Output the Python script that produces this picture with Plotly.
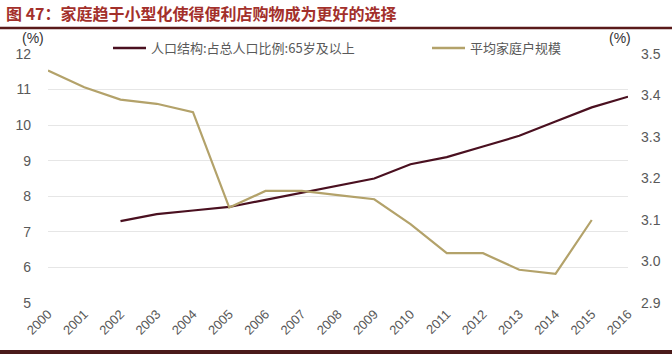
import plotly.graph_objects as go

years = list(range(2000, 2017))
year_labels = [str(y) for y in years]

aged_years = list(range(2002, 2017))
aged_share = [7.3, 7.5, 7.6, 7.7, 7.9, 8.1, 8.3, 8.5, 8.9, 9.1, 9.4, 9.7, 10.1, 10.5, 10.8]

hh_years = list(range(2000, 2016))
hh_size = [3.46, 3.42, 3.39, 3.38, 3.36, 3.13, 3.17, 3.17, 3.16, 3.15, 3.09, 3.02, 3.02, 2.98, 2.97, 3.10]

left_ticks = [5, 6, 7, 8, 9, 10, 11, 12]
right_ticks = [2.9, 3.0, 3.1, 3.2, 3.3, 3.4, 3.5]
right_labels = ["2.9", "3.0", "3.1", "3.2", "3.3", "3.4", "3.5"]

name_aged = "人口结构:占总人口比例:65岁及以上"
name_hh = "平均家庭户规模"
title = "图 47：家庭趋于小型化使得便利店购物成为更好的选择"

maroon = "#4a1020"
gold = "#b3a26a"
grey = "#595959"
cjk = "Noto Sans CJK SC"

W, H = 672, 354
ML, MR, MT, MB = 48, 44, 54, 51
PW, PH = W - ML - MR, H - MT - MB


def px(xp):
    return (xp - ML) / PW


def py(yp):
    return (H - MB - yp) / PH


fig = go.Figure()
fig.add_trace(go.Scatter(x=aged_years, y=aged_share, mode="lines", name=name_aged,
                         line=dict(color=maroon, width=2.2), yaxis="y"))
fig.add_trace(go.Scatter(x=hh_years, y=hh_size, mode="lines", name=name_hh,
                         line=dict(color=gold, width=2.2), yaxis="y2"))

fig.update_layout(
    width=W, height=H,
    margin=dict(l=ML, r=MR, t=MT, b=MB, autoexpand=False),
    paper_bgcolor="white", plot_bgcolor="white",
    showlegend=False,
    xaxis=dict(range=[2000, 2016], tickmode="array", tickvals=years, ticktext=year_labels,
               tickangle=-45, tickfont=dict(family="Liberation Sans, Arial", size=13, color=grey),
               showgrid=False, zeroline=False, showline=False, ticks=""),
    yaxis=dict(range=[5, 12], tickmode="array", tickvals=left_ticks,
               tickfont=dict(family="Liberation Sans, Arial", size=14, color=grey),
               showgrid=True, gridcolor="#e6e6e6", gridwidth=1, zeroline=False,
               showline=False, ticks="", ticklabelstandoff=16),
    yaxis2=dict(range=[2.9, 3.5], overlaying="y", side="right", tickmode="array",
                tickvals=right_ticks, ticktext=right_labels,
                tickfont=dict(family="Liberation Sans, Arial", size=14, color=grey),
                showgrid=False, zeroline=False, showline=False, ticks="", ticklabelstandoff=12),
    font=dict(family="Liberation Sans, Arial", color=grey),
)

# axis unit labels
fig.add_annotation(text="(%)", xref="paper", yref="paper", x=px(46), y=py(38),
                   xanchor="right", yanchor="middle", showarrow=False,
                   font=dict(size=14, color="#333333"))
fig.add_annotation(text="(%)", xref="paper", yref="paper", x=px(633), y=py(38),
                   xanchor="right", yanchor="middle", showarrow=False,
                   font=dict(size=14, color="#333333"))

# manual legend
for x0, x1, col, name in [(113, 146, maroon, name_aged), (432, 465, gold, name_hh)]:
    fig.add_shape(type="line", xref="paper", yref="paper", x0=px(x0), x1=px(x1),
                  y0=py(48), y1=py(48), line=dict(color=col, width=2.5))
    fig.add_annotation(text=name, xref="paper", yref="paper", x=px(x1 + 3), y=py(47),
                       xanchor="left", yanchor="middle", showarrow=False,
                       font=dict(family=cjk, size=13, color=grey))

# title
fig.add_annotation(text="<b>" + title + "</b>", xref="paper", yref="paper",
                   x=px(4), y=py(13), xanchor="left", yanchor="middle",
                   showarrow=False, font=dict(family=cjk, size=16, color="#a3302b"))

# title rule and bottom bar
fig.add_shape(type="line", xref="paper", yref="paper", x0=px(0), x1=px(W),
              y0=py(28), y1=py(28), line=dict(color="#5a1a1a", width=2.5))
fig.add_shape(type="line", xref="paper", yref="paper", x0=px(0), x1=px(W),
              y0=py(352), y1=py(352), line=dict(color="#4a1a1a", width=4))

fig.write_html("out.html")
